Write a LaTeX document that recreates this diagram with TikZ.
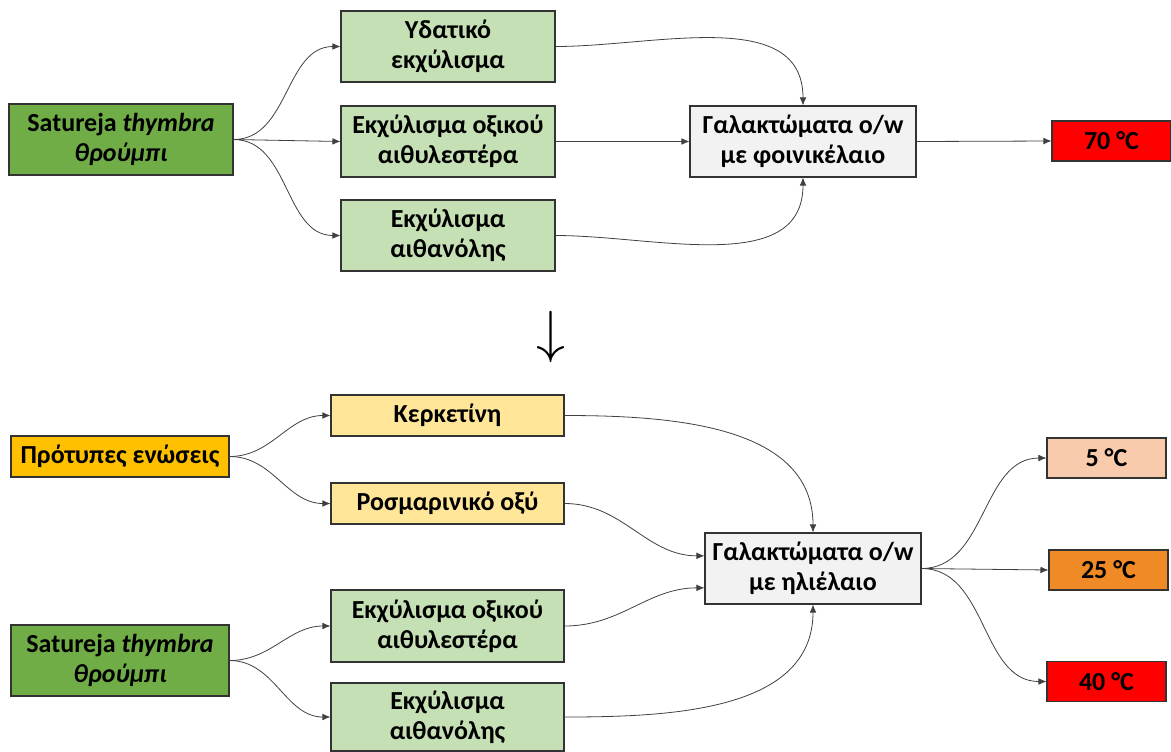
\documentclass[tikz,border=0pt]{standalone}
\usepackage{fontspec}
\setmainfont{Carlito}
\usetikzlibrary{arrows.meta}

\definecolor{plantgreen}{HTML}{70AD47}
\definecolor{extractgreen}{HTML}{C5E0B4}
\definecolor{stdgold}{HTML}{FFC000}
\definecolor{stdlight}{HTML}{FFE699}
\definecolor{emulgray}{HTML}{F2F2F2}
\definecolor{cold}{HTML}{F8CBAD}
\definecolor{warm}{HTML}{EF8A26}
\definecolor{hot}{HTML}{FF0000}

\tikzset{
  basebox/.style={draw=black!80, line width=0.8pt, align=center, inner sep=2pt,
    font=\bfseries\fontsize{19.5}{22.5}\selectfont},
  boxsize/.style 2 args={minimum width=#1*0.75pt, minimum height=#2*0.75pt},
  plant/.style={basebox, fill=plantgreen},
  extract/.style={basebox, fill=extractgreen},
  compound/.style={basebox, fill=stdlight},
  emulsion/.style={basebox, fill=emulgray},
  temp/.style={basebox, boxsize={119}{40}},
  link/.style={draw=black!75, line width=0.6pt, -{Latex[length=6pt,width=5pt]}},
  sbend/.style={out=0, in=180},
}

\begin{document}
\begin{tikzpicture}[x=0.75pt, y=-0.75pt]
  \useasboundingbox (0,0) rectangle (1171,751);

  % palm oil emulsions
  \node[plant, boxsize={224}{71}] (sat1) at (121,139.5) {Satureja \textit{thymbra}\\\textit{θρούμπι}};
  \node[extract, boxsize={214}{71}] (yd) at (448,46.5) {Υδατικό\\εκχύλισμα};
  \node[extract, boxsize={214}{71}] (ea1) at (448,141.5) {Εκχύλισμα οξικού\\αιθυλεστέρα};
  \node[extract, boxsize={214}{71}] (et1) at (448,235.5) {Εκχύλισμα\\αιθανόλης};
  \node[emulsion, boxsize={226}{71}] (em1) at (803,141.5) {Γαλακτώματα o/w\\με φοινικέλαιο};
  \node[temp, fill=hot] (t70) at (1111.5,141) {70 °C};

  \draw[link] (sat1.east) to[sbend] (yd.west);
  \draw[link] (sat1.east) -- (ea1.west);
  \draw[link] (sat1.east) to[sbend] (et1.west);
  \draw[link] (yd.east) to[out=0, in=90] (em1.north);
  \draw[link] (ea1.east) -- (em1.west);
  \draw[link] (et1.east) to[out=0, in=-90] (em1.south);
  \draw[link] (em1.east) -- (t70.west);

  \node[font=\fontsize{24}{24}\selectfont, scale=1.75] (down) at (551,337) {$\downarrow$};

  % sunflower oil emulsions
  \node[basebox, fill=stdgold, boxsize={218}{41}] (pr) at (120,456.5) {Πρότυπες ενώσεις};
  \node[compound, boxsize={233}{41}] (ker) at (447.5,415.5) {Κερκετίνη};
  \node[compound, boxsize={233}{41}] (ros) at (447.5,503.5) {Ροσμαρινικό οξύ};
  \node[plant, boxsize={218}{71}] (sat2) at (120,660.5) {Satureja \textit{thymbra}\\\textit{θρούμπι}};
  \node[extract, boxsize={233}{72}] (ea2) at (447.5,626) {Εκχύλισμα οξικού\\αιθυλεστέρα};
  \node[extract, boxsize={233}{68}] (et2) at (447.5,717) {Εκχύλισμα\\αιθανόλης};
  \node[emulsion, boxsize={216}{71}] (em2) at (813,568.5) {Γαλακτώματα o/w\\με ηλιέλαιο};
  \node[temp, fill=cold] (t5) at (1106.5,458) {5 °C};
  \node[temp, fill=warm] (t25) at (1108.5,570) {25 °C};
  \node[temp, fill=hot] (t40) at (1106.5,681.5) {40 °C};

  \draw[link] (pr.east) to[sbend] (ker.west);
  \draw[link] (pr.east) to[sbend] (ros.west);
  \draw[link] (sat2.east) to[sbend] (ea2.west);
  \draw[link] (sat2.east) to[sbend] (et2.west);
  \draw[link] (ker.east) to[out=0, in=90] (em2.north);
  \draw[link] (ros.east) to[sbend] ([yshift=9.5pt]em2.west);
  \draw[link] (ea2.east) to[sbend] ([yshift=-14.5pt]em2.west);
  \draw[link] (et2.east) to[out=0, in=-90] (em2.south);
  \draw[link] (em2.east) to[sbend] (t5.west);
  \draw[link] (em2.east) -- (t25.west);
  \draw[link] (em2.east) to[sbend] (t40.west);
\end{tikzpicture}
\end{document}
